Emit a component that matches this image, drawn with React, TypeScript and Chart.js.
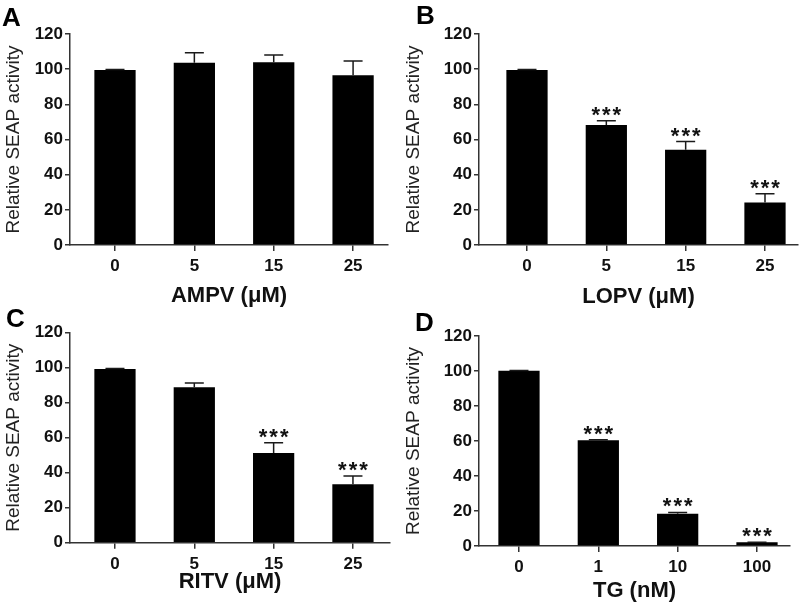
import React, { useEffect, useRef } from "react";
import { Chart, registerables } from "chart.js";

Chart.register(...registerables);

const FONT = "'Liberation Sans', Arial, Helvetica, sans-serif";

// ---- data ----
const concLabels = ["0", "5", "15", "25"];
const tgLabels = ["0", "1", "10", "100"];

const ampvValues = [99.5, 103.7, 104.0, 96.5];
const ampvErrors = [0.3, 5.7, 4.0, 8.1];
const ampvStars = ["", "", "", ""];

const lopvValues = [99.5, 68.2, 54.2, 24.1];
const lopvErrors = [0.3, 2.5, 4.6, 5.1];
const lopvStars = ["", "***", "***", "***"];

const ritvValues = [99.3, 88.8, 51.3, 33.4];
const ritvErrors = [0.3, 2.5, 5.8, 4.7];
const ritvStars = ["", "", "***", "***"];

const tgValues = [100.2, 60.4, 18.5, 2.1];
const tgErrors = [0.1, 0.3, 0.7, 0.1];
const tgStars = ["", "***", "***", "***"];

const yTickValues = [0, 20, 40, 60, 80, 100, 120];
const yTitle = "Relative SEAP activity";

// ---- layout (styles only) ----
const W = 400;
const H = 310;

type Panel = {
  letter: string;
  xTitle: string;
  labels: string[];
  values: number[];
  errors: number[];
  stars: string[];
  pos: { x: number; y: number };
  area: { left: number; right: number; top: number; bottom: number };
  xRange: [number, number];
  letterPos: { x: number; y: number };
  xTitlePad: number;
};

const panels: Panel[] = [
  {
    letter: "A", xTitle: "AMPV (\u03BCM)", labels: concLabels,
    values: ampvValues, errors: ampvErrors, stars: ampvStars,
    pos: { x: 0, y: 0 }, area: { left: 70, right: 388, top: 34, bottom: 245 },
    xRange: [-0.567, 3.44], letterPos: { x: 2, y: 8 }, xTitlePad: 1,
  },
  {
    letter: "B", xTitle: "LOPV (\u03BCM)", labels: concLabels,
    values: lopvValues, errors: lopvErrors, stars: lopvStars,
    pos: { x: 400, y: 0 }, area: { left: 79, right: 398, top: 34, bottom: 245 },
    xRange: [-0.605, 3.416], letterPos: { x: 16, y: 6 }, xTitlePad: 0,
  },
  {
    letter: "C", xTitle: "RITV (\u03BCM)", labels: concLabels,
    values: ritvValues, errors: ritvErrors, stars: ritvStars,
    pos: { x: 0, y: 300 }, area: { left: 70, right: 390, top: 32.7, bottom: 242.7 },
    xRange: [-0.567, 3.467], letterPos: { x: 6, y: 9 }, xTitlePad: 15,
  },
  {
    letter: "D", xTitle: "TG (nM)", labels: tgLabels,
    values: tgValues, errors: tgErrors, stars: tgStars,
    pos: { x: 400, y: 300 }, area: { left: 79, right: 390, top: 36, bottom: 246 },
    xRange: [-0.504, 3.416], letterPos: { x: 15, y: 13 }, xTitlePad: 6,
  },
];

const AXIS_COLOR = "#333";
const TEXT_COLOR = "#111";

function makeOverlayPlugin(p: Panel) {
  return {
    id: "overlay" + p.letter,
    afterDatasetsDraw(chart: any) {
      const ctx = chart.ctx as CanvasRenderingContext2D;
      const yScale = chart.scales.y;
      const meta = chart.getDatasetMeta(0);
      ctx.save();
      meta.data.forEach((el: any, i: number) => {
        const v = p.values[i];
        const e = p.errors[i];
        const topPx = yScale.getPixelForValue(v + e);
        const barTop = yScale.getPixelForValue(v);
        if (e > 0) {
          ctx.strokeStyle = "#1a1a1a";
          ctx.lineWidth = 1.5;
          ctx.beginPath();
          ctx.moveTo(el.x, barTop);
          ctx.lineTo(el.x, topPx);
          ctx.moveTo(el.x - 9.5, topPx);
          ctx.lineTo(el.x + 9.5, topPx);
          ctx.stroke();
        }
        const s = p.stars[i];
        if (s) {
          ctx.font = `bold 22px ${FONT}`;
          (ctx as any).letterSpacing = "2px";
          ctx.fillStyle = TEXT_COLOR;
          ctx.textAlign = "center";
          ctx.textBaseline = "alphabetic";
          const m = ctx.measureText(s);
          const targetBottom = Math.min(topPx, barTop) - 5;
          const baseline = targetBottom - m.actualBoundingBoxDescent;
          ctx.fillText(s, el.x + 1, baseline);
          (ctx as any).letterSpacing = "0px";
        }
      });
      ctx.restore();
    },
    afterDraw(chart: any) {
      const ctx = chart.ctx as CanvasRenderingContext2D;
      ctx.save();
      ctx.font = `bold 26px ${FONT}`;
      ctx.fillStyle = "#000";
      ctx.textAlign = "left";
      ctx.textBaseline = "alphabetic";
      const m = ctx.measureText(p.letter);
      ctx.fillText(p.letter, p.letterPos.x, p.letterPos.y + m.actualBoundingBoxAscent);
      ctx.restore();
    },
  };
}

function PanelChart({ p }: { p: Panel }) {
  const ref = useRef<HTMLCanvasElement | null>(null);
  useEffect(() => {
    if (!ref.current) return;
    const chart = new Chart(ref.current, {
      type: "bar",
      data: {
        datasets: [
          {
            data: p.values.map((v, i) => ({ x: i, y: v })),
            backgroundColor: "#000",
            borderColor: "#000",
            borderWidth: 0,
            categoryPercentage: 1,
            barPercentage: 0.52,
          } as any,
        ],
      },
      options: {
        animation: false,
        responsive: false,
        maintainAspectRatio: false,
        layout: {
          padding: { left: 0, top: p.area.top, right: W - p.area.right, bottom: 0 },
        },
        plugins: {
          legend: { display: false },
          tooltip: { enabled: false },
          title: { display: false },
        },
        scales: {
          x: {
            type: "linear",
            min: p.xRange[0],
            max: p.xRange[1],
            offset: false,
            afterBuildTicks: (s: any) => {
              s.ticks = p.labels.map((_, i) => ({ value: i }));
            },
            afterFit: (s: any) => {
              s.height = H - p.area.bottom;
            },
            ticks: {
              callback: (v: any) => p.labels[v as number] ?? "",
              font: { family: FONT, size: 17, weight: "bold" },
              color: TEXT_COLOR,
              padding: 5,
              maxRotation: 0,
              autoSkip: false,
            },
            grid: {
              display: true,
              offset: false,
              drawOnChartArea: false,
              drawTicks: true,
              tickLength: 6,
              color: AXIS_COLOR,
              lineWidth: 1.5,
            },
            border: { display: true, color: AXIS_COLOR, width: 1.5 },
            title: {
              display: true,
              text: p.xTitle,
              font: { family: FONT, size: 22, weight: "bold" },
              color: TEXT_COLOR,
              padding: { top: 0, bottom: p.xTitlePad },
            },
          } as any,
          y: {
            type: "linear",
            min: 0,
            max: 120,
            afterBuildTicks: (s: any) => {
              s.ticks = yTickValues.map((v) => ({ value: v }));
            },
            afterFit: (s: any) => {
              s.width = p.area.left;
            },
            ticks: {
              font: { family: FONT, size: 17, weight: "bold" },
              color: TEXT_COLOR,
              padding: 2,
            },
            grid: {
              display: true,
              drawOnChartArea: false,
              drawTicks: true,
              tickLength: 5,
              color: AXIS_COLOR,
              lineWidth: 1.5,
            },
            border: { display: true, color: AXIS_COLOR, width: 1.5 },
            title: {
              display: true,
              text: yTitle,
              font: { family: FONT, size: 19, weight: "normal" },
              color: "#222",
              padding: { top: 2, bottom: 0 },
            },
          } as any,
        },
      },
      plugins: [makeOverlayPlugin(p)],
    });
    return () => chart.destroy();
  }, [p]);
  return (
    <canvas
      ref={ref}
      width={W}
      height={H}
      style={{ position: "absolute", left: p.pos.x, top: p.pos.y, width: W, height: H }}
    />
  );
}

export default function App() {
  return (
    <div
      style={{
        position: "fixed",
        left: 0,
        top: 0,
        width: 800,
        height: 610,
        background: "#fff",
        overflow: "hidden",
      }}
    >
      {panels.map((p) => (
        <PanelChart key={p.letter} p={p} />
      ))}
    </div>
  );
}
